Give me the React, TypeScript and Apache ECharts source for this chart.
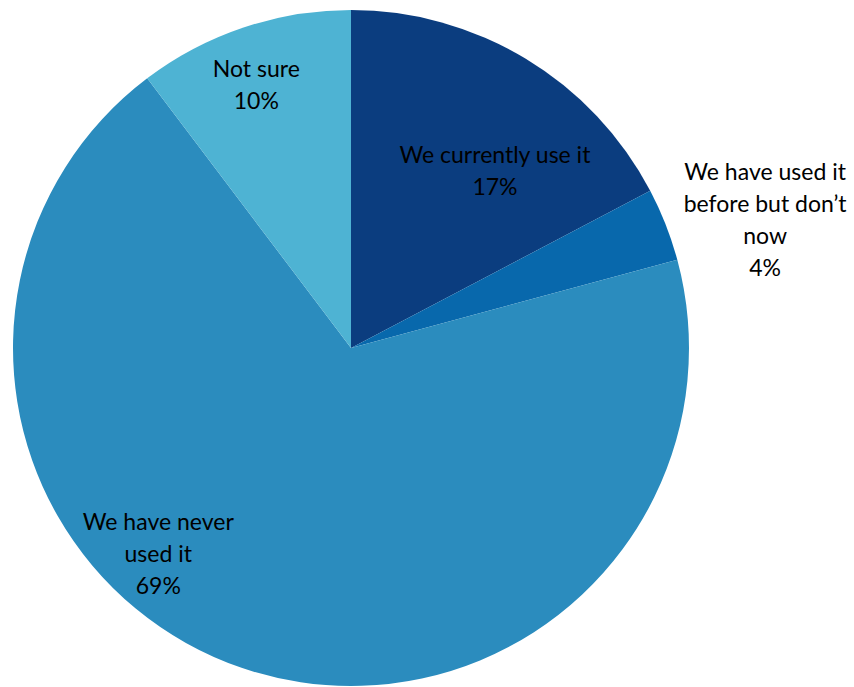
import React, { useEffect, useRef } from "react";
import * as echarts from "echarts";

const categories = [
  "We currently use it",
  "We have used it\nbefore but don’t\nnow",
  "We have never\nused it",
  "Not sure",
];
const values = [17.3, 3.5, 68.9, 10.3];
const shownPercents = ["17%", "4%", "69%", "10%"];
const colors = ["#0b3d7f", "#0868ac", "#2b8cbe", "#4eb3d3"];
const labelOffsets: [number, number][] = [
  [55, -31],
  [254, -66],
  [-137, 42],
  [-40, -101],
];

export default function App() {
  const ref = useRef<HTMLDivElement>(null);
  useEffect(() => {
    if (!ref.current) return;
    const chart = echarts.init(ref.current, undefined, { renderer: "svg" });
    chart.setOption({
      animation: false,
      backgroundColor: "#ffffff",
      series: [
        {
          type: "pie",
          center: [351, 348],
          radius: [0, 338],
          startAngle: 90,
          clockwise: true,
          avoidLabelOverlap: false,
          itemStyle: { borderWidth: 0 },
          emphasis: { disabled: true },
          labelLine: { show: false },
          data: categories.map((name, i) => ({
            name,
            value: values[i],
            itemStyle: { color: colors[i] },
            label: {
              show: true,
              position: "inside",
              offset: labelOffsets[i],
              formatter: () => `${name}\n${shownPercents[i]}`,
              color: "#000000",
              fontFamily: "Lato",
              fontSize: 23,
              lineHeight: 32,
              align: "center",
            },
          })),
        },
      ],
    });
    return () => chart.dispose();
  }, []);
  return (
    <div
      ref={ref}
      style={{ position: "fixed", left: 0, top: 0, width: 854, height: 687 }}
    />
  );
}
